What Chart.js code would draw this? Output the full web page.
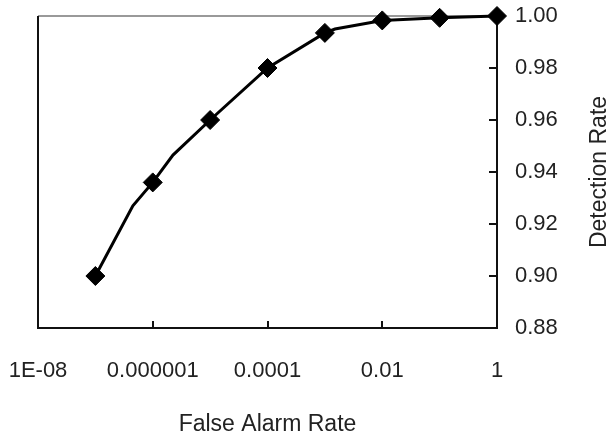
<!DOCTYPE html>
<html>
<head>
<meta charset="utf-8">
<script src="https://cdn.jsdelivr.net/npm/chart.js@4.4.1/dist/chart.umd.min.js"></script>
<style>
  html, body { margin: 0; padding: 0; background: #fff; }
  #wrap { width: 610px; height: 440px; }
</style>
</head>
<body>
<div id="wrap"><canvas id="rocChart"></canvas></div>
<script>
// ROC curve: false alarm rate (log) vs detection rate
var falseAlarm = [1e-7, 4.5e-7, 1e-6, 2.25e-6, 1e-5, 1e-4, 1e-3, 1.5e-3, 1e-2, 1e-1, 1];
var detection  = [0.900, 0.927, 0.936, 0.9465, 0.960, 0.980, 0.9935, 0.995, 0.9983, 0.9993, 1.000];
var marked     = [true, false, true, false, true, true, true, false, true, true, true];

var xTicks = [1e-8, 1e-6, 1e-4, 1e-2, 1];
var xLabels = ['1E-08', '0.000001', '0.0001', '0.01', '1'];
var yTicks = [0.88, 0.90, 0.92, 0.94, 0.96, 0.98, 1.00];
var yLabels = ['0.88', '0.90', '0.92', '0.94', '0.96', '0.98', '1.00'];

var fontFamily = "'Liberation Sans', Arial, sans-serif";

var points = falseAlarm.map(function(v, i) { return {x: v, y: detection[i]}; });

// box + inward tick marks, and the rotated right-hand title
var frame = {
  id: 'frame',
  beforeDatasetsDraw: function(chart) {
    var ctx = chart.ctx, a = chart.chartArea;
    var x = chart.scales.x, y = chart.scales.y;
    ctx.save();
    ctx.lineWidth = 1.5;
    ctx.strokeStyle = '#777';
    ctx.beginPath();
    ctx.moveTo(a.left, a.top); ctx.lineTo(a.right, a.top);
    ctx.stroke();
    ctx.strokeStyle = '#111';
    ctx.lineWidth = 2;
    ctx.beginPath();
    ctx.moveTo(a.left, a.top); ctx.lineTo(a.left, a.bottom);
    ctx.lineTo(a.right, a.bottom); ctx.lineTo(a.right, a.top);
    x.ticks.forEach(function(t) {
      var px = Math.round(x.getPixelForValue(t.value));
      ctx.moveTo(px, a.bottom); ctx.lineTo(px, a.bottom - 7);
    });
    y.ticks.forEach(function(t) {
      var py = Math.round(y.getPixelForValue(t.value));
      ctx.moveTo(a.right, py); ctx.lineTo(a.right - 8, py);
    });
    ctx.stroke();
    ctx.restore();
  },
  afterDraw: function(chart) {
    var ctx = chart.ctx, a = chart.chartArea;
    ctx.save();
    ctx.translate(600, (a.top + a.bottom) / 2);
    ctx.rotate(-Math.PI / 2);
    ctx.font = '23px ' + fontFamily;
    ctx.fillStyle = '#222';
    ctx.textAlign = 'center';
    ctx.textBaseline = 'middle';
    ctx.fillText('Detection Rate', 0, 0);
    ctx.restore();
  }
};

new Chart(document.getElementById('rocChart'), {
  type: 'line',
  data: {
    datasets: [{
      data: points,
      borderColor: '#000',
      borderWidth: 3,
      tension: 0,
      fill: false,
      clip: false,
      pointStyle: 'rectRot',
      pointRadius: marked.map(function(m) { return m ? 9.5 : 0; }),
      pointBackgroundColor: '#000',
      pointBorderColor: '#000',
      pointBorderWidth: 1
    }]
  },
  options: {
    responsive: true,
    maintainAspectRatio: false,
    animation: false,
    devicePixelRatio: 1,
    layout: { padding: { left: 38, top: 16, right: 0, bottom: 0 } },
    plugins: {
      legend: { display: false },
      tooltip: { enabled: false }
    },
    scales: {
      x: {
        type: 'logarithmic',
        position: 'bottom',
        min: 1e-8,
        max: 1,
        afterBuildTicks: function(scale) {
          scale.ticks = xTicks.map(function(v) { return {value: v}; });
        },
        afterFit: function(scale) {
          scale.height = 112;
          scale.paddingLeft = 0;
          scale.paddingRight = 0;
        },
        grid: { display: false, drawTicks: false },
        border: { display: false },
        ticks: {
          autoSkip: false,
          maxRotation: 0,
          padding: 30,
          color: '#222',
          font: { family: fontFamily, size: 22 },
          callback: function(v, i) { return xLabels[i]; }
        },
        title: {
          display: true,
          text: 'False Alarm Rate',
          color: '#222',
          font: { family: fontFamily, size: 23 },
          padding: { top: 0, bottom: 2 }
        }
      },
      y: {
        position: 'right',
        min: 0.88,
        max: 1.00,
        afterBuildTicks: function(scale) {
          scale.ticks = yTicks.map(function(v) { return {value: v}; });
        },
        afterFit: function(scale) {
          scale.width = 113;
          scale.paddingTop = 0;
          scale.paddingBottom = 0;
        },
        grid: { display: false, drawTicks: false },
        border: { display: false },
        ticks: {
          padding: 18,
          color: '#222',
          font: { family: fontFamily, size: 22 },
          callback: function(v, i) { return yLabels[i]; }
        }
      }
    }
  },
  plugins: [frame]
});
</script>
</body>
</html>
